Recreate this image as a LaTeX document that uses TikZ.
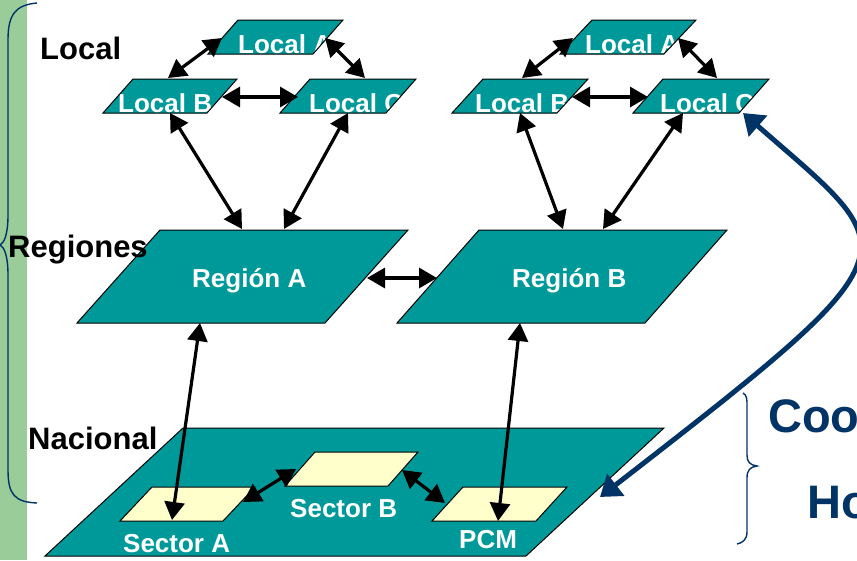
\documentclass[tikz,border=0pt]{standalone}
\usepackage{fontspec}
\setmainfont{Liberation Sans}
\usetikzlibrary{arrows.meta}
\definecolor{tealfill}{HTML}{009999}
\definecolor{cream}{HTML}{FFFFCC}
\definecolor{navy}{HTML}{003366}
\definecolor{sage}{HTML}{99CC99}

% name, bottom-left x, top y, bottom y, slant, width
\newcommand\para[6]{%
  \coordinate (#1-bl) at (#2,#4);
  \coordinate (#1-br) at ({#2+#6},#4);
  \coordinate (#1-tr) at ({#2+#5+#6},#3);
  \coordinate (#1-tl) at ({#2+#5},#3);
}
\newcommand\parapath[1]{(#1-bl) -- (#1-br) -- (#1-tr) -- (#1-tl) -- cycle}

\begin{document}
\begin{tikzpicture}[x=1pt,y=-1pt,
  lbl/.style={anchor=base west, inner sep=0pt, font=\bfseries\fontsize{31}{31}\selectfont},
  wtxt/.style={anchor=base west, inner sep=0pt, text=white, font=\bfseries\fontsize{26}{26}\selectfont},
  btxt/.style={anchor=base west, inner sep=0pt, text=navy, font=\bfseries\fontsize{47}{47}\selectfont},
  link/.style={line width=3.2pt, {Triangle[length=18pt,width=20pt]}-{Triangle[length=18pt,width=20pt]}},
  hop/.style={draw=navy, line width=5pt, {Triangle[length=20pt,width=27pt]}-{Triangle[length=20pt,width=27pt]}},
  outline/.style={draw=black, line width=1pt},
  brace/.style={draw=navy, line width=1.4pt}]
\useasboundingbox (0,0) rectangle (857,560);
\fill[white] (0,0) rectangle (857,560);
\fill[sage] (0,0) rectangle (27,560);

% braces
\draw[brace] (37,3) .. controls (15,5) and (8,15) .. (8,40) -- (8,215)
  .. controls (8,235) and (4,243) .. (0,245)
  .. controls (4,247) and (8,255) .. (8,275) -- (8,470)
  .. controls (8,495) and (15,502) .. (37,503);
\draw[brace] (743,393) .. controls (747,395) and (747,400) .. (747,405) -- (747,455)
  .. controls (747,462) and (750,465) .. (757,466)
  .. controls (750,467) and (747,470) .. (747,478) -- (747,532)
  .. controls (747,540) and (742,543) .. (737,544);

% shapes
\para{nac}{45}{428}{556}{138}{481}
\para{secA}{120}{487}{521}{32}{103}
\para{secB}{285}{452}{486}{30}{103}
\para{pcm}{432}{487}{521}{31}{104}
\para{regA}{77}{230}{323}{83}{248}
\para{regB}{397}{230}{323}{82}{248}
\para{lA}{208}{20}{54}{30}{105}
\para{lB}{103}{79}{113}{30}{104}
\para{lC}{280}{79}{113}{30}{106}
\para{rA}{560}{20}{54}{32}{104}
\para{rB}{452}{79}{113}{31}{105}
\para{rC}{633}{79}{113}{30}{106}

\fill[tealfill] \parapath{nac};
\draw[outline] \parapath{nac};
\foreach \s in {secA,secB,pcm}{\fill[cream] \parapath{\s};}
\foreach \s in {regA,regB,lA,lB,lC,rA,rB,rC}{\fill[tealfill] \parapath{\s};}

% texts in shapes
\node[wtxt] (tlA) at (238,53) {Local A};
\node[wtxt] (tlB) at (118,112) {Local B};
\node[wtxt] (tlC) at (309,112) {Local C};
\node[wtxt] (trA) at (585,53) {Local A};
\node[wtxt] (trB) at (475,112) {Local B};
\node[wtxt] (trC) at (660,112) {Local C};
\node[wtxt] (tregA) at (192,287) {Región A};
\node[wtxt] (tregB) at (512,287) {Región B};
\node[wtxt] (tsecA) at (123,552) {Sector A};
\node[wtxt] (tsecB) at (290,517) {Sector B};
\node[wtxt] (tpcm) at (459,548) {PCM};

\foreach \s in {secA,secB,pcm,regA,regB,lA,lB,lC,rA,rB,rC}{\draw[outline] \parapath{\s};}

% level labels
\node[lbl] (local) at (40,59) {Local};
\node[lbl] (regiones) at (8,257) {Regiones};
\node[lbl] (nacional) at (28,449) {Nacional};

% connector end points
\coordinate (lB-toA) at (168,78);  \coordinate (lA-toB) at (222,38);
\coordinate (lA-toC) at (325,38);  \coordinate (lC-toA) at (365,78);
\coordinate (lB-toC) at (222,97);  \coordinate (lC-toB) at (298,97);
\coordinate (lB-down) at (170,113); \coordinate (regA-toB) at (242,229);
\coordinate (lC-down) at (348,113); \coordinate (regA-toC) at (284,229);
\coordinate (rB-toA) at (522,78);  \coordinate (rA-toB) at (573,38);
\coordinate (rA-toC) at (678,38);  \coordinate (rC-toA) at (717,78);
\coordinate (rB-toC) at (572,97);  \coordinate (rC-toB) at (648,97);
\coordinate (rB-down) at (520,113); \coordinate (regB-toB) at (563,229);
\coordinate (rC-down) at (683,113); \coordinate (regB-toC) at (603,229);
\coordinate (regA-right) at (367,278); \coordinate (regB-left) at (437,278);
\coordinate (regA-down) at (200,323); \coordinate (secA-up) at (172,520);
\coordinate (regB-down) at (520,323); \coordinate (pcm-up) at (498,521);
\coordinate (secA-right) at (243,502); \coordinate (secB-left) at (296,469);
\coordinate (secB-right) at (402,470); \coordinate (pcm-left) at (445,503);
\coordinate (rC-hop) at (743,113); \coordinate (nac-hop) at (600,497);

\draw[link] (lB-toA) -- (lA-toB);
\draw[link] (lA-toC) -- (lC-toA);
\draw[link] (lB-toC) -- (lC-toB);
\draw[link] (lB-down) -- (regA-toB);
\draw[link] (lC-down) -- (regA-toC);
\draw[link] (rB-toA) -- (rA-toB);
\draw[link] (rA-toC) -- (rC-toA);
\draw[link] (rB-toC) -- (rC-toB);
\draw[link] (rB-down) -- (regB-toB);
\draw[link] (rC-down) -- (regB-toC);
\draw[link] (regA-right) -- (regB-left);
\draw[link] (regA-down) -- (secA-up);
\draw[link] (regB-down) -- (pcm-up);
\draw[link] (secA-right) -- (secB-left);
\draw[link] (secB-right) -- (pcm-left);

\begin{scope}
\clip (0,0) rectangle (857,560);
\draw[hop] (rC-hop) .. controls (905,255) and (925,245) .. (nac-hop);
\node[btxt] (coo) at (768,432) {Coo};
\node[btxt] (ho) at (807,518) {Ho};
\end{scope}
\end{tikzpicture}
\end{document}
